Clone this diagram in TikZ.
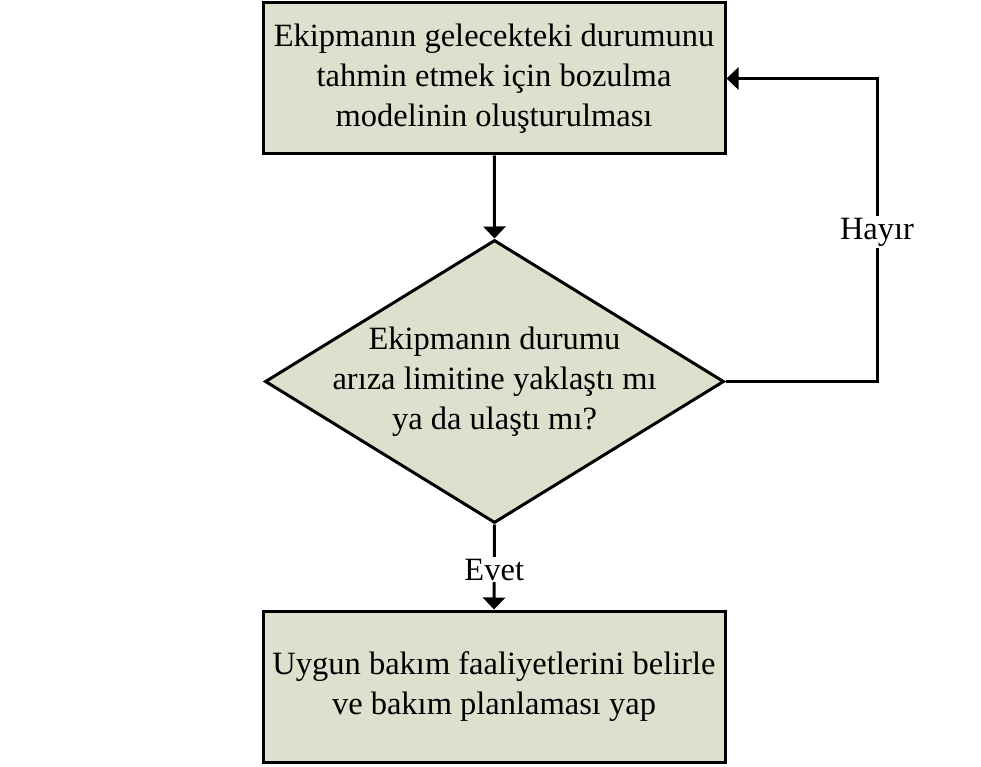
\documentclass[tikz,border=0pt]{standalone}
\usepackage{fontspec}
\setmainfont{Liberation Serif}
\usetikzlibrary{arrows.meta,shapes.geometric}
\definecolor{kutuyesil}{HTML}{DDE0CC}
\begin{document}
\begin{tikzpicture}[
    x=1pt, y=-1pt,
    every node/.style={font=\fontsize{32.5}{40}\selectfont},
    kutu/.style={draw, line width=3pt, fill=kutuyesil, minimum width=462pt,
                 minimum height=151pt, align=center, inner sep=0pt},
    karar/.style={diamond, draw, line width=3pt, fill=kutuyesil,
                  minimum width=459pt, minimum height=283pt, inner sep=0pt},
    ok/.style={line width=3pt, -{Triangle[width=22pt,length=12pt]}},
    etiket/.style={fill=white, inner sep=2pt}
  ]
  \useasboundingbox (0,0) rectangle (981,767);

  % Bozulma modeli kutusu
  \node[kutu] (model) at (494,78.5)
    {Ekipmanın gelecekteki durumunu\\ tahmin etmek için bozulma\\ modelinin oluşturulması};

  % Karar elması
  \node[karar] (karar) at (494.5,381.5) {};
  \node[align=center] (karartxt) at (karar.center)
    {Ekipmanın durumu\\ arıza limitine yaklaştı mı\\ ya da ulaştı mı?};

  % Bakım planlama kutusu
  \node[kutu] (plan) at (494,686.5)
    {Uygun bakım faaliyetlerini belirle\\ ve bakım planlaması yap};

  % Oklar
  \coordinate (donus) at (877,232);
  \draw[ok] (model) -- (karar.north);
  \draw[ok] (karar.east) -| (donus) node[etiket] {Hayır} |- (model.east);
  \draw[ok] (karar.south) -- node[etiket, pos=0.53] {Evet} (plan.north);
\end{tikzpicture}
\end{document}
